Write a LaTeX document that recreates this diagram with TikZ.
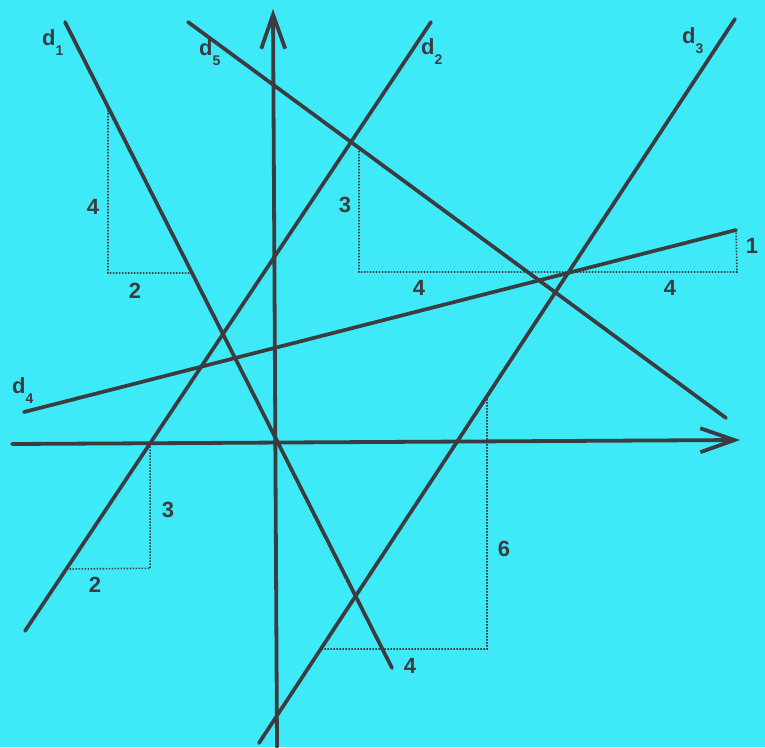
\documentclass[tikz,border=0pt]{standalone}
\usepackage{fontspec}
\setmainfont{Liberation Sans}
\usetikzlibrary{arrows.meta}
\definecolor{bg}{RGB}{62,234,248}
\definecolor{ink}{RGB}{58,60,64}
\begin{document}
\begin{tikzpicture}[x=1pt,y=-1pt,
  line/.style={draw=ink,line width=3.7pt,line cap=round},
  axis/.style={draw=ink,line width=3.8pt,line cap=round,-{Straight Barb[length=34pt,width=24pt,line width=3.8pt]}},
  guide/.style={draw=ink,line width=1.6pt,dash pattern=on 1.5pt off 1.5pt},
  num/.style={text=ink,font=\fontsize{22}{22}\selectfont\bfseries,inner sep=0pt},
  lbl/.style={text=ink,font=\fontsize{22}{22}\selectfont\bfseries,inner sep=0pt,anchor=base west}]
\fill[bg] (0,0) rectangle (765,747);
\useasboundingbox (0,0) rectangle (765,747);
% line end points
\coordinate (d1a) at (65,22);   \coordinate (d1b) at (392,668);
\coordinate (d5a) at (188,22);  \coordinate (d5b) at (726,418);
\coordinate (d2a) at (25,631);  \coordinate (d2b) at (431,22);
\coordinate (d3a) at (259,743); \coordinate (d3b) at (735,19);
\coordinate (d4a) at (24,412);  \coordinate (d4b) at (736,230);
\coordinate (xa) at (12,444);   \coordinate (xb) at (740,440);
\coordinate (ya) at (277,747);  \coordinate (yb) at (273,9);
% axes
\draw[axis] (xa) -- (xb);
\draw[axis] (ya) -- (yb);
% lines
\draw[line] (d1a) -- (d1b);
\draw[line] (d5a) -- (d5b);
\draw[line] (d2a) -- (d2b);
\draw[line] (d3a) -- (d3b);
\draw[line] (d4a) -- (d4b);
% slope triangles
\coordinate (t1a) at (intersection of d1a--d1b and 108,0--108,1);
\coordinate (t1b) at (108,273);
\coordinate (t1c) at (intersection of d1a--d1b and 0,273--1,273);
\draw[guide] (t1a) -- (t1b) -- (t1c);
\coordinate (t5a) at (intersection of d5a--d5b and 359,0--359,1);
\coordinate (t5b) at (359,272);
\coordinate (t5c) at (737,272);
\coordinate (t5d) at (d4b);
\draw[guide] (t5a) -- (t5b) -- (t5c) -- (t5d);
\coordinate (t2a) at (intersection of d2a--d2b and xa--xb);
\path (t2a) ++(0,125) coordinate (t2b);
\coordinate (t2c) at (intersection of d2a--d2b and 0,569--1,569);
\draw[guide] (t2a) -- (t2b) -- (t2c);
\coordinate (t3a) at (intersection of d3a--d3b and 487,0--487,1);
\coordinate (t3b) at (487,649);
\coordinate (t3c) at (intersection of d3a--d3b and 0,649--1,649);
\draw[guide] (t3a) -- (t3b) -- (t3c);
% numbers
\node[num] (n1) at (93,207) {4};
\node[num] (n2) at (135,291) {2};
\node[num] (n3) at (345,205) {3};
\node[num] (n4) at (419,288) {4};
\node[num] (n5) at (670,288) {4};
\node[num] (n6) at (752,246) {1};
\node[num] (n7) at (168,510) {3};
\node[num] (n8) at (95,585) {2};
\node[num] (n9) at (504,549) {6};
\node[num] (n10) at (410,666) {4};
% line labels
\newcommand{\dsub}[1]{d\raisebox{-10pt}{\fontsize{14}{14}\selectfont #1}}
\node[lbl] (l1) at (42,45) {\dsub{1}};
\node[lbl] (l5) at (199,55) {\dsub{5}};
\node[lbl] (l2) at (421,54) {\dsub{2}};
\node[lbl] (l3) at (682,43) {\dsub{3}};
\node[lbl] (l4) at (12,393) {\dsub{4}};
\end{tikzpicture}
\end{document}
